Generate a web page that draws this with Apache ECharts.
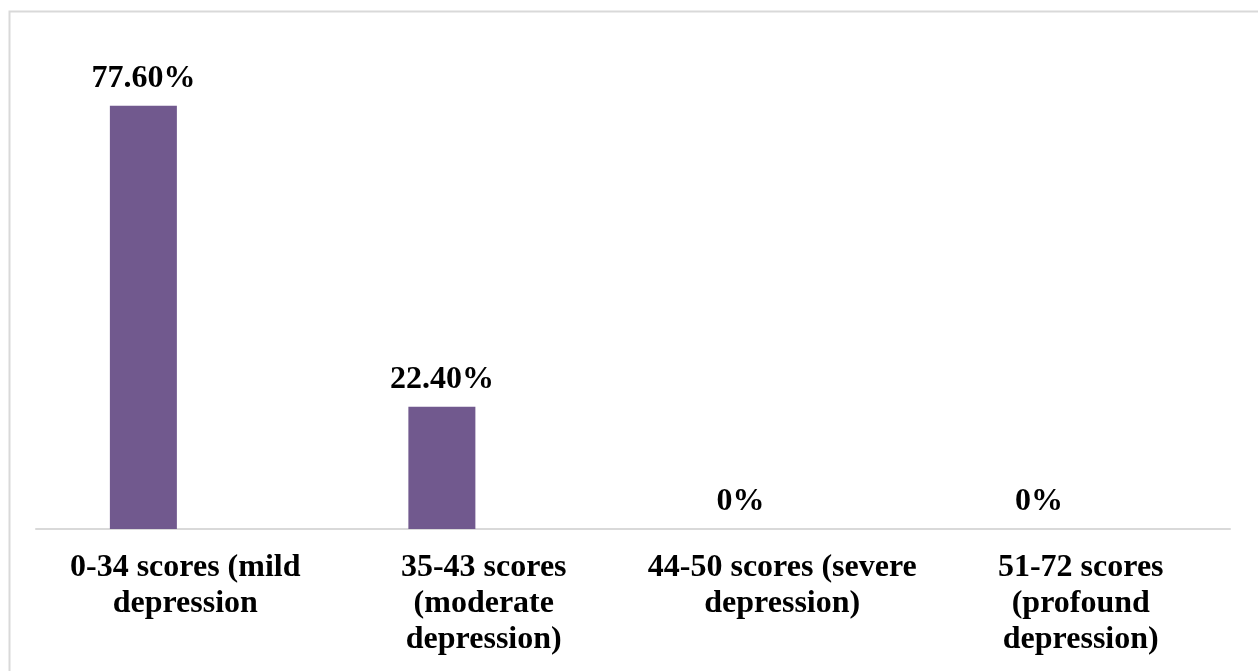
<!DOCTYPE html>
<html>
<head>
<meta charset="utf-8">
<script src="https://cdn.jsdelivr.net/npm/echarts@6/dist/echarts.min.js"></script>
<style>
  html, body { margin: 0; padding: 0; background: #fff; }
  #chart { width: 1258px; height: 671px; }
</style>
</head>
<body>
<div id="chart"></div>
<script>
// Depression score bands and share of respondents (%)
const categories = [
  '0-34 scores (mild\ndepression',
  '35-43 scores\n(moderate\ndepression)',
  '44-50 scores (severe\ndepression)',
  '51-72 scores\n(profound\ndepression)'
];
const shares = [77.6, 22.4, 0, 0];
// empty companion series (keeps the bars in the left slot of each band)
const companion = ['-', '-', '-', '-'];

const textFont = {
  fontFamily: '"Liberation Serif", "Times New Roman", serif',
  fontWeight: 'bold',
  color: '#000'
};

const chart = echarts.init(document.getElementById('chart'), null, { renderer: 'canvas' });
chart.setOption({
  animation: false,
  backgroundColor: '#fff',
  graphic: [{
    type: 'rect',
    left: 7, top: 9,
    shape: { width: 1300, height: 720 },
    style: { fill: 'none', stroke: '#d9d9d9', lineWidth: 2 },
    silent: true
  }],
  grid: { left: 36, right: 28, top: 38, bottom: 142 },
  xAxis: {
    type: 'category',
    data: categories,
    axisLine: { show: true, lineStyle: { color: '#d9d9d9', width: 2 } },
    axisTick: { show: false },
    axisLabel: Object.assign({
      fontSize: 32, lineHeight: 36, margin: 21, interval: 0
    }, textFont)
  },
  yAxis: {
    type: 'value', min: 0, max: 90,
    show: false,
    splitLine: { show: false }
  },
  series: [{
    type: 'bar',
    data: shares,
    barWidth: 67,
    barGap: '25%',
    itemStyle: { color: '#71598E' },
    label: Object.assign({
      show: true, position: 'top', distance: 11, fontSize: 32,
      formatter: p => (p.value === 0 ? '0%' : p.value.toFixed(2) + '%')
    }, textFont)
  }, {
    type: 'bar',
    data: companion,
    barWidth: 67,
    silent: true
  }]
});
</script>
</body>
</html>
